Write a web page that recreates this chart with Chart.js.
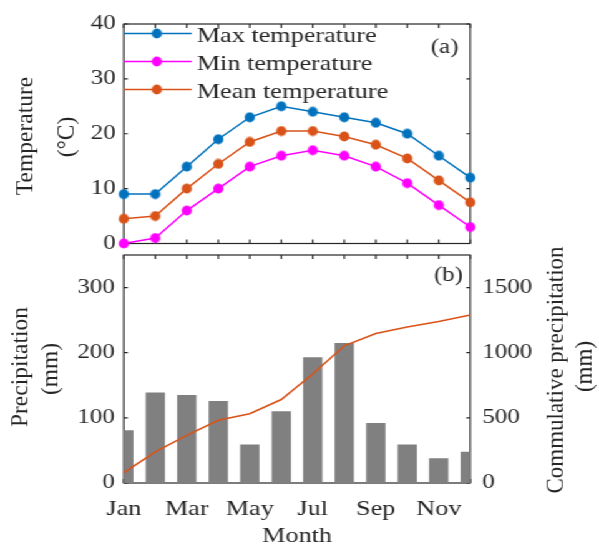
<!DOCTYPE html>
<html>
<head>
<meta charset="utf-8">
<script src="https://cdn.jsdelivr.net/npm/chart.js@4/dist/chart.umd.min.js"></script>
<style>
  html, body { margin: 0; padding: 0; background: #fff; overflow: hidden; }
  /* the reference figure is stretched sideways, so the whole drawing is too */
  #wrap { position: relative; width: 480px; height: 545px; transform: scaleX(1.248); transform-origin: 0 0; }
  #wrap canvas { position: absolute; left: 0; }
  #tempCanvas { top: 0; z-index: 2; }
  #precCanvas { top: 228px; z-index: 1; }
</style>
</head>
<body>
<div id="wrap">
  <canvas id="precCanvas" width="480" height="317"></canvas>
  <canvas id="tempCanvas" width="480" height="262"></canvas>
</div>
<script>
const months = ['Jan', 'Feb', 'Mar', 'Apr', 'May', 'Jun', 'Jul', 'Aug', 'Sep', 'Oct', 'Nov', 'Dec'];
const xTickLabels = ['Jan', 'Mar', 'May', 'Jul', 'Sep', 'Nov'];
const tempTicks = [0, 10, 20, 30, 40];
const precTicks = [0, 100, 200, 300];
const cumTicks = [0, 500, 1000, 1500];

const maxTemp = [9, 9, 14, 19, 23, 25, 24, 23, 22, 20, 16, 12];
const minTemp = [0, 1, 6, 10, 14, 16, 17, 16, 14, 11, 7, 3];
const meanTemp = [4.5, 5, 10, 14.5, 18.5, 20.5, 20.5, 19.5, 18, 15.5, 11.5, 7.5];

const precip = [81, 139, 135, 126, 59, 110, 193, 215, 92, 59, 38, 48];
const cumPrecip = [79, 239, 366, 481, 532, 641, 837, 1053, 1147, 1198, 1239, 1290];

const S = 1.248;            // horizontal stretch of the wrapper
const BOTTOM_TOP = 228;     // offset of the precipitation canvas
const ink = '#262626';
const serif = '"Liberation Serif", "Times New Roman", serif';

Chart.defaults.font.family = serif;
Chart.defaults.color = ink;
Chart.defaults.animation = false;

// round marker that stays round after the sideways stretch
function dot(color) {
  const c = document.createElement('canvas');
  c.width = 10; c.height = 11;
  const g = c.getContext('2d');
  g.fillStyle = color;
  g.beginPath();
  g.ellipse(5, 5.5, 4.1, 5.1, 0, 0, Math.PI * 2);
  g.fill();
  return c;
}

// vertical text, drawn un-stretched (cx in real pixels)
function drawRotated(ctx, text, cx, cy, size) {
  ctx.save();
  ctx.scale(1 / S, 1);
  ctx.translate(cx + 0.22 * size, cy);
  ctx.rotate(-Math.PI / 2);
  ctx.font = size + 'px ' + serif;
  ctx.fillStyle = ink;
  ctx.textAlign = 'center';
  ctx.textBaseline = 'alphabetic';
  ctx.fillText(text, 0, 0);
  ctx.restore();
}

const fixedTicks = list => s => { s.ticks = list.map(v => ({ value: v })); };

// box round the plot with inward ticks
const framePlugin = {
  id: 'frame',
  beforeDatasetsDraw(chart) {
    const { ctx, chartArea: a, scales } = chart;
    const yl = scales.y;
    const yr = scales.y1 || scales.y;
    ctx.save();
    ctx.strokeStyle = ink;
    ctx.lineWidth = 1.2;
    ctx.strokeRect(a.left, a.top, a.width, a.height);
    ctx.beginPath();
    months.forEach((m, i) => {
      const px = scales.x.getPixelForValue(i);
      ctx.moveTo(px, a.bottom); ctx.lineTo(px, a.bottom - 4);
      ctx.moveTo(px, a.top); ctx.lineTo(px, a.top + 4);
    });
    yl.ticks.forEach(t => {
      const py = yl.getPixelForValue(t.value);
      ctx.moveTo(a.left, py); ctx.lineTo(a.left + 4 / S, py);
    });
    yr.ticks.forEach(t => {
      const py = yr.getPixelForValue(t.value);
      ctx.moveTo(a.right, py); ctx.lineTo(a.right - 4 / S, py);
    });
    ctx.stroke();
    ctx.restore();
  }
};

const tempTitles = {
  id: 'tempTitles',
  afterDatasetsDraw(chart) {
    const { ctx, chartArea: a } = chart;
    drawRotated(ctx, 'Temperature', 27, 136, 23.5);
    drawRotated(ctx, '(\u00B0C)', 68, 137, 23.5);

    // legend: line with marker, then the label
    const rows = [33.5, 61.5, 89.5];
    chart.data.datasets.forEach((ds, i) => {
      const y = rows[i];
      ctx.save();
      ctx.strokeStyle = ds.borderColor;
      ctx.lineWidth = 1.5;
      ctx.beginPath();
      ctx.moveTo(a.left, y);
      ctx.lineTo(a.left + 68 / S, y);
      ctx.stroke();
      const img = ds.pointStyle;
      ctx.drawImage(img, a.left + 33 / S - img.width / 2, y - img.height / 2);
      ctx.font = '21px ' + serif;
      ctx.fillStyle = ink;
      ctx.textBaseline = 'alphabetic';
      ctx.fillText(ds.label, a.left + 73 / S, y + 8);
      ctx.restore();
    });

    ctx.save();
    ctx.font = '20px ' + serif;
    ctx.fillStyle = ink;
    ctx.textAlign = 'right';
    ctx.fillText('(a)', 458.5 / S, 53);
    ctx.restore();
  }
};

const precTitles = {
  id: 'precTitles',
  afterDatasetsDraw(chart) {
    const { ctx, chartArea: a } = chart;
    drawRotated(ctx, 'Precipitation', 22.5, 367 - BOTTOM_TOP, 23.5);
    drawRotated(ctx, '(mm)', 52.5, 369 - BOTTOM_TOP, 23.5);
    drawRotated(ctx, 'Commulative precipitation', 557.5, 370 - BOTTOM_TOP, 23);
    drawRotated(ctx, '(mm)', 587, 366.5 - BOTTOM_TOP, 23);

    ctx.save();
    ctx.font = '20px ' + serif;
    ctx.fillStyle = ink;
    ctx.textAlign = 'right';
    ctx.fillText('(b)', 463 / S, 281 - BOTTOM_TOP);
    ctx.textAlign = 'center';
    ctx.font = '21px ' + serif;
    ctx.fillText('Month', (a.left + a.right) / 2, 542 - BOTTOM_TOP);
    ctx.restore();
  }
};

const noGrid = { display: false, drawTicks: false, tickLength: 0 };
const noBorder = { display: false };

new Chart(document.getElementById('tempCanvas'), {
  type: 'line',
  data: {
    labels: months,
    datasets: [
      { label: 'Max temperature', data: maxTemp, borderColor: '#0072BD', pointStyle: dot('#0072BD') },
      { label: 'Min temperature', data: minTemp, borderColor: '#FF00FF', pointStyle: dot('#FF00FF') },
      { label: 'Mean temperature', data: meanTemp, borderColor: '#D95319', pointStyle: dot('#D95319') }
    ].map(d => Object.assign(d, { borderWidth: 1.5, pointRadius: 5, clip: false, tension: 0 }))
  },
  options: {
    responsive: false,
    devicePixelRatio: 1,
    events: [],
    layout: { padding: { top: 24, right: 480 - 376.8, bottom: 14, left: 0 } },
    plugins: { legend: { display: false }, tooltip: { enabled: false } },
    scales: {
      x: { type: 'category', display: false, offset: false },
      y: {
        min: 0, max: 40,
        grid: noGrid, border: noBorder,
        ticks: { padding: 6.5, font: { size: 20 }, callback: v => String(v) },
        afterBuildTicks: fixedTicks(tempTicks),
        afterFit: s => { s.width = 99.2; }
      }
    }
  },
  plugins: [framePlugin, tempTitles]
});

new Chart(document.getElementById('precCanvas'), {
  type: 'bar',
  data: {
    labels: months,
    datasets: [
      {
        type: 'line', label: 'Commulative precipitation', data: cumPrecip, yAxisID: 'y1',
        borderColor: '#D95319', borderWidth: 1.6, pointRadius: 0, tension: 0, order: 0
      },
      {
        type: 'bar', label: 'Precipitation', data: precip, yAxisID: 'y',
        backgroundColor: '#808080', categoryPercentage: 0.613, barPercentage: 1,
        clip: 0, order: 1
      }
    ]
  },
  options: {
    responsive: false,
    devicePixelRatio: 1,
    events: [],
    layout: { padding: { top: 27, right: 0, bottom: 0, left: 0 } },
    plugins: { legend: { display: false }, tooltip: { enabled: false } },
    scales: {
      x: {
        type: 'category', offset: false,
        grid: { display: false, drawTicks: false, tickLength: 0, offset: false }, border: noBorder,
        ticks: {
          autoSkip: false, maxRotation: 0, padding: 14, font: { size: 21 },
          callback: (v, i) => xTickLabels.includes(months[i]) ? months[i] : ''
        },
        afterFit: s => { s.height = 62; }
      },
      y: {
        position: 'left', min: 0, max: 350,
        grid: noGrid, border: noBorder,
        ticks: { padding: 7.2, font: { size: 20 }, callback: v => String(v) },
        afterBuildTicks: fixedTicks(precTicks),
        afterFit: s => { s.width = 99.2; }
      },
      y1: {
        position: 'right', min: 0, max: 1750,
        grid: noGrid, border: noBorder,
        ticks: { padding: 9.6, font: { size: 20 }, callback: v => String(v) },
        afterBuildTicks: fixedTicks(cumTicks),
        afterFit: s => { s.width = 480 - 376.8; }
      }
    }
  },
  plugins: [framePlugin, precTitles]
});
</script>
</body>
</html>
